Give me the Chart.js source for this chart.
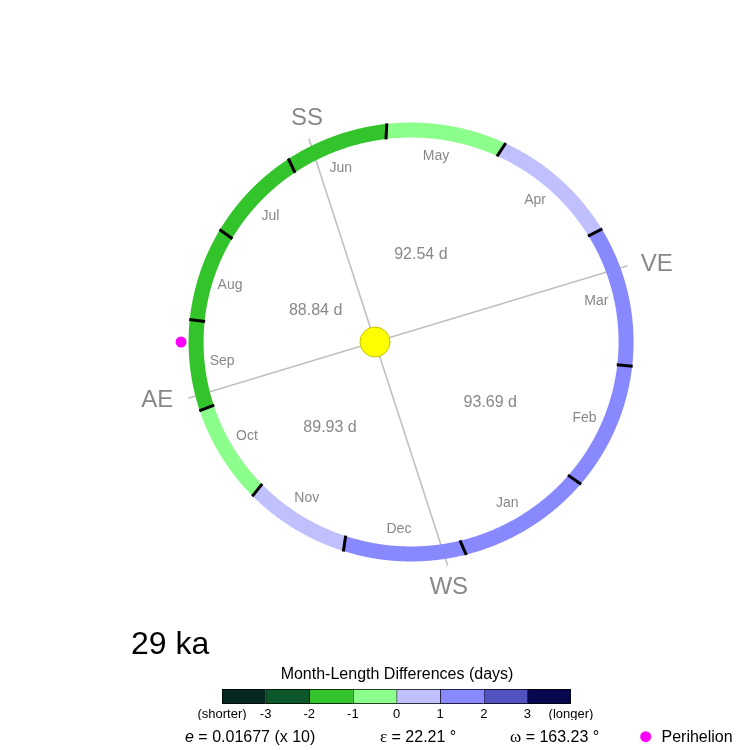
<!DOCTYPE html>
<html><head><meta charset="utf-8">
<script src="https://cdn.jsdelivr.net/npm/chart.js@4.4.1/dist/chart.umd.min.js"></script>
<style>
html,body{margin:0;padding:0;background:#fff;}
#wrap{position:relative;width:750px;height:750px;overflow:hidden;}
#orbit{position:absolute;left:0;top:0;}
#cbar{position:absolute;left:150px;top:680px;}
</style></head><body>
<div id="wrap"><canvas id="orbit" width="750" height="750"></canvas><canvas id="cbar" width="480" height="45"></canvas></div>
<script>
// ---------------- data ----------------
const ageLabel = '29 ka';
const months = ['Jan','Feb','Mar','Apr','May','Jun','Jul','Aug','Sep','Oct','Nov','Dec'];
// orbital longitude (deg, as drawn, counter-clockwise from +x) where each month begins
const monthStartLon = [293.2, 325.4, 354.6, 26.45, 56.7, 86.9, 115.3, 144.1, 173.1, 201.4, 231.5, 261.4];
// month-length differences (days)
const monthDiffDays = [1.6, 1.4, 1.2, 0.5, -0.4, -1.3, -1.7, -1.8, -1.5, -0.7, 0.3, 1.3];
const seasonMarks = ['VE','SS','AE','WS'];
// direction (deg, as drawn) of each equinox / solstice line
const seasonMarkLon = [16.77, 108.0, 196.77, 288.0];
const seasonDays = [92.54, 88.84, 89.93, 93.69];   // spring, summer, autumn, winter
const binEdges = [-4,-3,-2,-1,0,1,2,3,4];
const binColors = ['#04271f','#0c582a','#33c42b','#8cfe8c','#c0c0ff','#8888ff','#5252c0','#070750'];
const binTickLabels = ['(shorter)','-3','-2','-1','0','1','2','3','(longer)'];
const eccentricity = 0.01677;
const eccExaggeration = 10;
const obliquity = 22.21;
const perihelionOmega = 163.23;

// ---------------- layout ----------------
const PX = 215;            // pixels per semi-major axis
const SUN = [375, 342];    // sun pixel position
const RING_W = 15;
const FONT = "'Liberation Sans', Arial, sans-serif";
const seasonLabelDist = [99, 67, 97, 130];

// ---------------- geometry ----------------
const e = eccentricity * eccExaggeration;
const periAng = seasonMarkLon[0] + perihelionOmega;   // perihelion direction (drawn to the left)
const rad = d => d * Math.PI / 180;
function rAt(deg){ return (1 - e*e) / (1 + e*Math.cos(rad(deg - periAng))); }
function pt(deg, dpx){ const r = rAt(deg) + (dpx||0)/PX; return {x: r*Math.cos(rad(deg)), y: r*Math.sin(rad(deg))}; }
function arc(d0, d1){ if (d1 < d0) d1 += 360; const n = Math.max(2, Math.ceil((d1-d0)/0.5)); const p=[]; for(let i=0;i<=n;i++) p.push(pt(d0 + (d1-d0)*i/n)); return p; }
function colorFor(v){ for (let i=0;i<binColors.length;i++){ if (v >= binEdges[i] && v < binEdges[i+1]) return binColors[i]; } return v<0?binColors[0]:binColors[binColors.length-1]; }

const ds = [];
months.forEach((m,i)=>{
  ds.push({label:m, data: arc(monthStartLon[i], monthStartLon[(i+1)%12]), showLine:true,
    borderColor: colorFor(monthDiffDays[i]), borderWidth: RING_W, pointRadius:0, pointHoverRadius:0,
    borderCapStyle:'butt', borderJoinStyle:'round', tension:0.0001, order:3});
});
monthStartLon.forEach(d=>{
  ds.push({data:[pt(d,-8), pt(d,8)], showLine:true, borderColor:'#000', borderWidth:3, pointRadius:0, pointHoverRadius:0, borderCapStyle:'butt', order:2});
});
const markAng = seasonMarkLon;
[[0,2],[1,3]].forEach(([a,b])=>{
  ds.push({data:[pt(markAng[a],15), pt(markAng[b],15)], showLine:true, borderColor:'#c0c0c0', borderWidth:1.6, pointRadius:0, pointHoverRadius:0, order:4});
});
ds.push({label:'Sun', data:[{x:0,y:0}], pointRadius:15, pointHoverRadius:15, pointBackgroundColor:'#ffff00', pointBorderColor:'#c4c400', pointBorderWidth:1, order:1});
ds.push({label:'Perihelion', data:[pt(periAng,15)], pointRadius:5.5, pointHoverRadius:5.5, pointBackgroundColor:'#ff00ff', pointBorderColor:'#ff00ff', pointBorderWidth:0, order:1});

const textPlugin = {
  id:'orbitText',
  afterDatasetsDraw(chart){
    const c = chart.ctx, X = chart.scales.x, Y = chart.scales.y;
    const px = p => [X.getPixelForValue(p.x), Y.getPixelForValue(p.y)];
    c.save();
    // month labels
    c.fillStyle = '#888'; c.font = '14px ' + FONT; c.textAlign='center'; c.textBaseline='middle';
    months.forEach((m,i)=>{
      let d0 = monthStartLon[i], d1 = monthStartLon[(i+1)%12]; if (d1<d0) d1+=360;
      const [x,y] = px(pt((d0+d1)/2, -25)); c.fillText(m, x, y);
    });
    // season lengths
    c.font = '16px ' + FONT;
    seasonDays.forEach((v,i)=>{
      let a0 = markAng[i], a1 = markAng[(i+1)%4]; if (a1 < a0) a1 += 360;
      const a = rad((a0+a1)/2);
      c.fillText(v.toFixed(2) + ' d', SUN[0] + seasonLabelDist[i]*Math.cos(a), SUN[1] - seasonLabelDist[i]*Math.sin(a));
    });
    // equinox / solstice marks
    c.font = '24px ' + FONT; c.textBaseline='alphabetic';
    seasonMarks.forEach((s,i)=>{
      const [x,y] = px(pt(markAng[i],15));
      if (s==='VE'){ c.textAlign='left'; c.fillText(s, x+13, y+5); }
      else if (s==='SS'){ c.textAlign='center'; c.fillText(s, x-2, y-14); }
      else if (s==='AE'){ c.textAlign='right'; c.fillText(s, x-15, y+9); }
      else { c.textAlign='center'; c.fillText(s, x+1, y+28); }
    });
    // age
    c.fillStyle='#000'; c.textAlign='left'; c.font = '32px ' + FONT; c.fillText(ageLabel, 131, 654);
    // colour bar title
    c.textAlign='center'; c.font = '16px ' + FONT; c.fillText('Month-Length Differences (days)', 397, 679);
    // parameters row
    c.textAlign='left';
    c.font = 'italic 16px ' + FONT; c.fillText('e', 185, 742);
    const ew = c.measureText('e').width;
    c.font = '16px ' + FONT; c.fillText(' = ' + eccentricity.toFixed(5) + ' (x ' + eccExaggeration + ')', 185+ew, 742);
    c.font = "17px 'Liberation Serif', serif"; c.fillText('\u03b5', 380, 742);
    let w = c.measureText('\u03b5').width;
    c.font = '16px ' + FONT; c.fillText(' = ' + obliquity.toFixed(2) + ' \u00b0', 380+w, 742);
    c.font = "17px 'Liberation Serif', serif"; c.fillText('\u03c9', 510, 742);
    w = c.measureText('\u03c9').width;
    c.font = '16px ' + FONT; c.fillText(' = ' + perihelionOmega.toFixed(2) + ' \u00b0', 510+w, 742);
    // perihelion legend
    c.fillStyle='#ff00ff'; c.beginPath(); c.arc(645.7, 736.7, 5.5, 0, Math.PI*2); c.fill();
    c.fillStyle='#000'; c.fillText('Perihelion', 661.5, 742);
    c.restore();
  }
};

new Chart(document.getElementById('orbit'), {
  type:'scatter',
  data:{datasets: ds},
  options:{
    responsive:false, animation:false, events:[],
    layout:{padding:0, autoPadding:false},
    plugins:{legend:{display:false}, tooltip:{enabled:false}},
    scales:{
      x:{type:'linear', display:false, min: -SUN[0]/PX, max:(750-SUN[0])/PX},
      y:{type:'linear', display:false, min: -(750-SUN[1])/PX, max: SUN[1]/PX}
    }
  },
  plugins:[textPlugin]
});

// ---------------- colour bar ----------------
const cbDatasets = binColors.map((col,i)=>({
  data:[binEdges[i+1]-binEdges[i]], backgroundColor: col, borderColor:'#000',
  borderWidth:{top:1,bottom:1,left:1,right: i===binColors.length-1?1:0}, borderSkipped:false,
  barPercentage:1, categoryPercentage:1
}));
new Chart(document.getElementById('cbar'), {
  type:'bar',
  data:{labels:['d'], datasets: cbDatasets},
  options:{
    indexAxis:'y', responsive:false, animation:false, events:[],
    layout:{padding:{left:72, right:59, top:9, bottom:5}},
    plugins:{legend:{display:false}, tooltip:{enabled:false}},
    scales:{
      x:{type:'linear', stacked:true, min:0, max: binEdges[binEdges.length-1]-binEdges[0],
         grid:{display:false, drawTicks:false}, border:{display:false},
         afterFit: s => { s.height = 16; },
         ticks:{stepSize:1, padding:3, color:'#000', font:{family:FONT, size:13},
           maxRotation:0, autoSkip:false, callback:(v)=> binTickLabels[v]}},
      y:{stacked:true, display:false}
    }
  }
});
</script>
</body></html>
